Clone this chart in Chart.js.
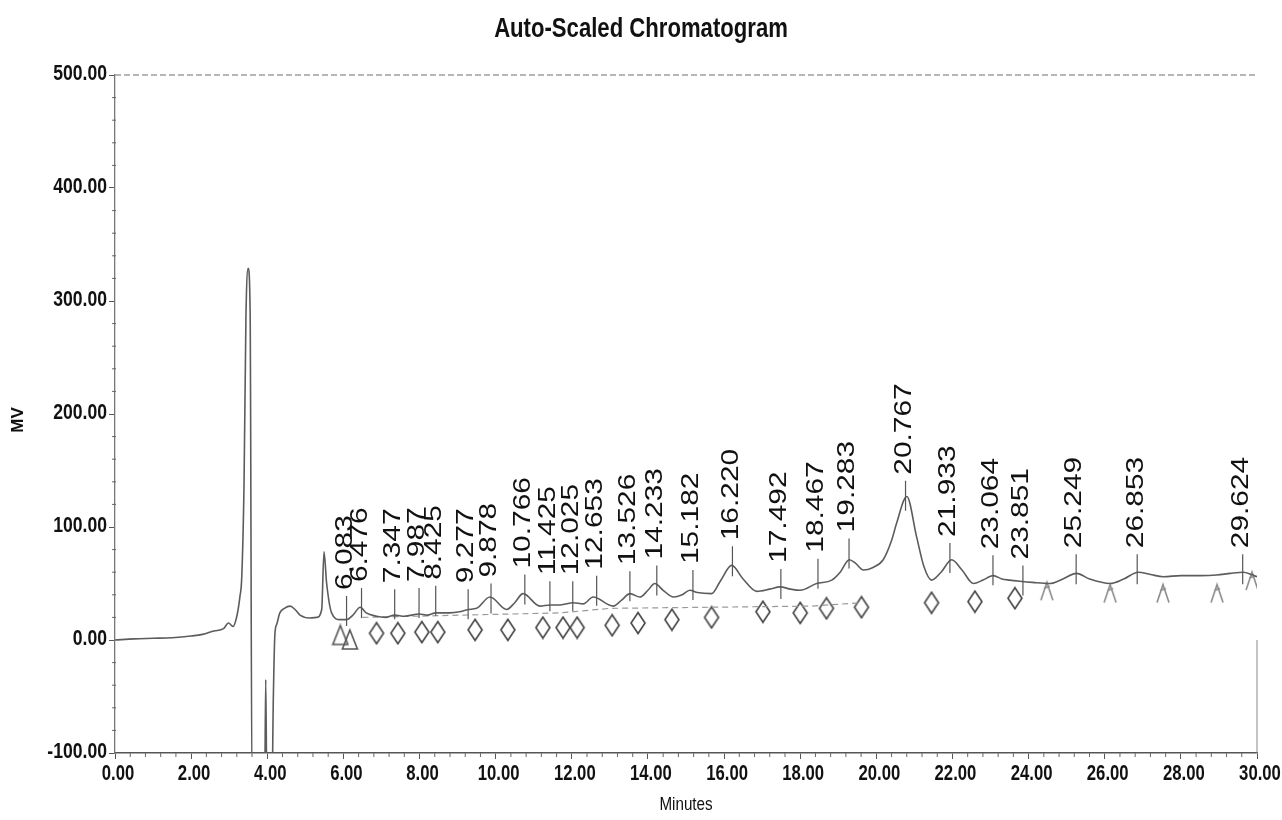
<!DOCTYPE html>
<html>
<head>
<meta charset="utf-8">
<title>Auto-Scaled Chromatogram</title>
<script src="https://cdn.jsdelivr.net/npm/chart.js@4.4.1/dist/chart.umd.min.js"></script>
<style>
  html, body { margin: 0; padding: 0; background: #fff; }
</style>
</head>
<body>
<canvas id="chrom" width="1282" height="820"></canvas>
<script>
const chartTitle = 'Auto-Scaled Chromatogram';
const xTitle = 'Minutes';
const yTitle = 'MV';

// detector trace, [minutes, mV]
const trace = [
  [0,0],[0.5,1],[1.0,1.5],[1.5,2],[2.0,3.5],[2.3,5],[2.6,8],[2.85,10],[2.98,15],[3.1,12],
  [3.2,21],[3.28,38],[3.33,56],[3.39,139],[3.44,286],[3.5,329],[3.55,290],[3.6,-140],
  [3.93,-140],[3.96,-35],[3.99,-140],[4.12,-140],[4.16,-50],[4.2,5],[4.25,14],[4.33,24],
  [4.45,28],[4.6,30],[4.73,27],[4.86,22],[5.12,19.5],[5.3,20],[5.43,27],[5.49,78],[5.56,50],
  [5.69,24],[5.91,18],[6.08,18],[6.25,22],[6.44,29],[6.6,24],[6.87,21],[7.1,20],[7.35,22],
  [7.6,21],[7.99,23],[8.2,22],[8.43,24],[8.8,24],[9.05,25],[9.28,27],[9.5,28],[9.85,38],
  [10.29,27],[10.5,33],[10.72,41],[11.16,30],[11.43,31],[11.7,31],[12.04,33],[12.3,32],
  [12.56,38],[13.09,30],[13.3,35],[13.53,41],[13.79,38],[14.0,44],[14.18,50],[14.4,44],
  [14.67,38],[14.9,40],[15.1,44],[15.3,42],[15.67,41],[15.9,52],[16.2,66],[16.5,54],
  [16.86,43],[17.2,45],[17.47,47],[17.75,45],[18.0,44],[18.43,50],[18.83,53],[19.05,60],
  [19.29,71],[19.45,68],[19.66,62],[19.9,64],[20.18,71],[20.4,88],[20.53,103],[20.8,127],
  [21.06,91],[21.25,65],[21.45,53],[21.7,60],[21.98,71],[22.25,62],[22.55,50],[22.8,53],
  [23.07,57],[23.3,54],[23.5,53],[23.77,52],[24.1,51],[24.56,50],[24.9,54],[25.26,59],
  [25.6,54],[26.14,50],[26.5,54],[26.88,60],[27.2,58],[27.54,56],[28.0,57],[28.5,57],
  [28.94,57.5],[29.3,59],[29.64,60],[29.85,58],[30.0,56]
];

// integration baseline (dashed)
const baseline = [[6.5,20],[11.7,24],[13.0,28],[18.3,30],[19.6,33]];

// labelled peaks: retention time and apex height
const peakTimes = [6.083, 6.476, 7.347, 7.987, 8.425, 9.277, 9.878, 10.766, 11.425, 12.025,
  12.653, 13.526, 14.233, 15.182, 16.220, 17.492, 18.467, 19.283, 20.767, 21.933,
  23.064, 23.851, 25.249, 26.853, 29.624];
const peakMV = [23, 30, 29, 30, 32, 29, 34, 42, 36, 36,
  41, 45, 50, 46, 67, 47, 56, 74, 125, 70,
  59, 50, 60, 60, 60];

// peak start / end markers
const diamonds = [[6.87,6],[7.43,6],[8.06,7],[8.48,7],[9.46,9],[10.32,9],[11.24,11],[11.77,11],
  [12.14,11],[13.06,13],[13.74,15],[14.63,18],[15.67,20],[17.02,25],[18.0,24],[18.69,28],
  [19.61,29],[21.45,33],[22.59,34],[23.64,37]];
const triangles = [[5.92,4],[6.17,0]];
const faintTriangles = [[24.48,44],[26.14,42],[27.53,42],[28.95,42],[29.87,53]];

const toXY = arr => arr.map(p => ({x: p[0], y: p[1]}));

function markerCanvas(kind, color) {
  const c = document.createElement('canvas');
  c.width = 18; c.height = 24;
  const g = c.getContext('2d');
  g.strokeStyle = color; g.lineWidth = 1.6;
  g.beginPath();
  if (kind === 'diamond') {
    g.moveTo(9, 1.5); g.lineTo(16, 12); g.lineTo(9, 22.5); g.lineTo(2, 12);
    g.closePath();
  } else if (kind === 'triangle') {
    g.moveTo(9, 2); g.lineTo(16.5, 21); g.lineTo(1.5, 21);
    g.closePath();
  } else {
    // broken "/\" mark
    g.moveTo(3, 22); g.lineTo(9, 4); g.lineTo(15, 22);
    g.moveTo(6, 10); g.lineTo(12, 8);
  }
  g.stroke();
  return c;
}

const sans = "'Liberation Sans', Arial, sans-serif";

function squeezedText(ctx, text, x, y, sx, align) {
  ctx.save();
  ctx.translate(x, y);
  ctx.scale(sx, 1);
  ctx.textAlign = align;
  ctx.fillText(text, 0, 0);
  ctx.restore();
}

const chromDecor = {
  id: 'chromDecor',
  beforeDatasetsDraw(chart) {
    const {ctx, chartArea: a, scales: {x, y}} = chart;
    ctx.save();
    // dashed top border at 500
    ctx.strokeStyle = '#a0a0a0'; ctx.lineWidth = 1.3; ctx.setLineDash([6, 3]);
    ctx.beginPath();
    ctx.moveTo(a.left, y.getPixelForValue(500)); ctx.lineTo(a.right, y.getPixelForValue(500));
    ctx.stroke();
    ctx.setLineDash([]);
    // short right edge
    ctx.strokeStyle = '#888'; ctx.lineWidth = 1;
    ctx.beginPath();
    ctx.moveTo(a.right, y.getPixelForValue(0)); ctx.lineTo(a.right, a.bottom);
    ctx.stroke();
    // minor ticks
    ctx.strokeStyle = '#666';
    ctx.beginPath();
    for (let i = 1; i < 75; i++) {
      if (i % 5 === 0) continue;
      const px = x.getPixelForValue(i * 0.4);
      ctx.moveTo(px, a.bottom); ctx.lineTo(px, a.bottom + 4);
    }
    for (let v = -80; v < 500; v += 20) {
      if (v % 100 === 0) continue;
      const py = y.getPixelForValue(v);
      ctx.moveTo(a.left - 3, py); ctx.lineTo(a.left + 1, py);
    }
    ctx.stroke();
    ctx.restore();
  },
  afterDatasetsDraw(chart) {
    const {ctx, scales: {x, y}} = chart;
    ctx.save();
    ctx.strokeStyle = '#555'; ctx.lineWidth = 1.2;
    ctx.fillStyle = '#111';
    ctx.font = '23px ' + sans;
    ctx.textAlign = 'left'; ctx.textBaseline = 'middle';
    peakTimes.forEach((t, i) => {
      const px = x.getPixelForValue(t);
      const py = y.getPixelForValue(peakMV[i]);
      ctx.beginPath(); ctx.moveTo(px, py - 18); ctx.lineTo(px, py + 12); ctx.stroke();
      ctx.save();
      ctx.translate(px - 1, py - 24);
      ctx.rotate(-Math.PI / 2);
      ctx.scale(1.3, 1);
      ctx.fillText(t.toFixed(3), 0, 0);
      ctx.restore();
    });
    ctx.restore();
  },
  afterDraw(chart) {
    const {ctx, chartArea: a, scales: {x, y}} = chart;
    ctx.save();
    ctx.fillStyle = '#111';
    ctx.textBaseline = 'alphabetic';
    ctx.font = 'bold 28px ' + sans;
    squeezedText(ctx, chartTitle, 641, 37, 0.79, 'center');

    ctx.textBaseline = 'middle';
    ctx.font = 'bold 22px ' + sans;
    x.ticks.forEach(tk => {
      squeezedText(ctx, tk.value.toFixed(2), x.getPixelForValue(tk.value) + 3, a.bottom + 21, 0.76, 'center');
    });
    y.ticks.forEach(tk => {
      squeezedText(ctx, tk.value.toFixed(2), a.left - 8, y.getPixelForValue(tk.value) - 1, 0.8, 'right');
    });

    ctx.font = '19px ' + sans;
    squeezedText(ctx, xTitle, (a.left + a.right) / 2, 805, 0.8, 'center');

    ctx.save();
    ctx.font = 'bold 17px ' + sans;
    ctx.translate(18, 420);
    ctx.rotate(-Math.PI / 2);
    ctx.textAlign = 'center';
    ctx.fillText(yTitle, 0, 0);
    ctx.restore();
    ctx.restore();
  }
};

new Chart(document.getElementById('chrom'), {
  type: 'line',
  data: {
    datasets: [
      {
        data: toXY(trace),
        borderColor: '#5c5c5c',
        borderWidth: 1.6,
        pointRadius: 0,
        cubicInterpolationMode: 'monotone'
      },
      {
        data: toXY(baseline),
        borderColor: '#9a9a9a',
        borderWidth: 1.2,
        borderDash: [6, 4],
        pointRadius: 0
      },
      {
        data: toXY(diamonds),
        showLine: false,
        pointStyle: markerCanvas('diamond', '#444'),
        pointRadius: 9
      },
      {
        data: toXY(triangles),
        showLine: false,
        pointStyle: markerCanvas('triangle', '#555'),
        pointRadius: 9
      },
      {
        data: toXY(faintTriangles),
        showLine: false,
        pointStyle: markerCanvas('broken', '#8a8a8a'),
        pointRadius: 9
      }
    ]
  },
  options: {
    responsive: false,
    animation: false,
    devicePixelRatio: 1,
    layout: { padding: { top: 75, right: 25, bottom: 0, left: 0 } },
    plugins: {
      legend: { display: false },
      tooltip: { enabled: false },
      title: { display: false }
    },
    scales: {
      x: {
        type: 'linear', min: 0, max: 30,
        afterFit(s) { s.height = 67; },
        ticks: { stepSize: 2, autoSkip: false, display: false },
        grid: { drawOnChartArea: false, tickLength: 6, color: '#555' },
        border: { color: '#555', width: 1.6 }
      },
      y: {
        type: 'linear', min: -100, max: 500,
        afterFit(s) { s.width = 115; },
        ticks: { stepSize: 100, display: false },
        grid: { drawOnChartArea: false, tickLength: 6, color: '#555' },
        border: { color: '#777', width: 1.3 }
      }
    }
  },
  plugins: [chromDecor]
});
</script>
</body>
</html>
